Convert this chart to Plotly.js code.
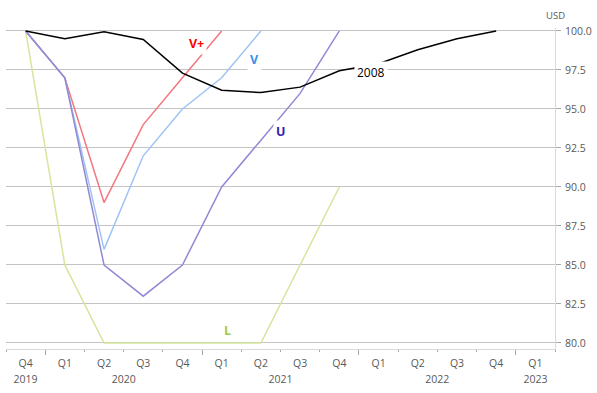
<!DOCTYPE html>
<html>
<head>
<meta charset="utf-8">
<script src="https://cdn.plot.ly/plotly-3.0.1.min.js"></script>
<style>html,body{margin:0;padding:0;background:#fff;}#chart{width:597px;height:393px;}</style>
</head>
<body>
<div id="chart"></div>
<script>
// Categories (quarters) and year groups
const quarters = ["Q4","Q1","Q2","Q3","Q4","Q1","Q2","Q3","Q4","Q1","Q2","Q3","Q4","Q1"];
const years = ["2019","2020","2021","2022","2023"];
const yearCenters = [0, 2.5, 6.5, 10.5, 13];
const yearBounds = [0.5, 4.5, 8.5, 12.5];
const idx = quarters.map((q, i) => i);

// Series values (USD index)
const s2008 = [100, 99.5, 99.95, 99.45, 97.3, 96.2, 96.05, 96.4, 97.45, 97.9, 98.8, 99.5, 100];
const sVplus = [100, 97, 89, 94, 97, 100];
const sV = [100, 97, 86, 92, 95, 97, 100];
const sU = [100, 97, 85, 83, 85, 90, 93, 96, 100];
const sL = [100, 85, 80, 80, 80, 80, 80, 85, 90];

const mk = (vals, color, name) => ({
  x: idx.slice(0, vals.length), y: vals, type: 'scatter', mode: 'lines', name: name,
  line: {color: color, width: 1.5}, hoverinfo: 'skip', showlegend: false
});

const data = [
  mk(sL, '#d4e69c', 'L'),
  mk(sVplus, '#f2777f', 'V+'),
  mk(sV, '#9ec4f4', 'V'),
  mk(sU, '#9388d4', 'U'),
  mk(s2008, '#000000', '2008'),
  {x: [0], y: [null], xaxis: 'x2', type: 'scatter', mode: 'lines', showlegend: false, hoverinfo: 'skip'},
  {x: [0], y: [null], xaxis: 'x3', type: 'scatter', mode: 'lines', showlegend: false, hoverinfo: 'skip'}
];

const xr = [-0.5, 13.5];
const font = {family: 'Open Sans, Noto Sans, sans-serif', size: 10.5, color: '#595959'};

const ann = (x, y, text, color, bold, size) => ({
  x: x, y: y, xref: 'x', yref: 'y', text: bold ? '<b>' + text + '</b>' : text, showarrow: false,
  font: {family: 'Open Sans, Noto Sans, sans-serif', size: size, color: color},
  bgcolor: '#ffffff', borderpad: 2
});

const layout = {
  width: 597, height: 393,
  margin: {l: 6, r: 42, t: 28, b: 44, pad: 0},
  paper_bgcolor: '#ffffff', plot_bgcolor: '#ffffff',
  font: font,
  xaxis: {
    range: xr, tickmode: 'array', tickvals: idx, ticktext: quarters,
    ticks: '', showgrid: false, zeroline: false,
    showline: true, linecolor: '#d9d9d9', linewidth: 1,
    tickfont: font, ticklabelstandoff: 4,
    minor: {tick0: -0.5, dtick: 1, ticks: 'outside', ticklen: 2, tickcolor: '#a6a6a6', tickwidth: 1, showgrid: false}
  },
  xaxis2: {
    range: xr, overlaying: 'x', side: 'bottom', tickmode: 'array', tickvals: yearCenters, ticktext: years,
    ticks: '', showgrid: false, zeroline: false, showline: false, tickfont: font, ticklabelstandoff: 22
  },
  xaxis3: {
    range: xr, overlaying: 'x', side: 'bottom', tickmode: 'array', tickvals: yearBounds,
    ticks: 'outside', ticklen: 5, tickcolor: '#a6a6a6', tickwidth: 1, showticklabels: false,
    showgrid: false, zeroline: false, showline: false
  },
  yaxis: {
    side: 'right', range: [79.615, 100.19], tickmode: 'linear', tick0: 80, dtick: 2.5, tickformat: '.1f',
    showgrid: true, gridcolor: '#c4c4c4', gridwidth: 1, zeroline: false,
    showline: true, linecolor: '#d9d9d9', linewidth: 1,
    ticks: 'outside', ticklen: 5, tickcolor: '#a6a6a6', tickfont: font, ticklabelstandoff: 2
  },
  annotations: [
    ann(4.37, 99.17, 'V+', '#ff0000', true, 12.5),
    ann(5.83, 98.14, 'V', '#3d8fe8', true, 12.5),
    ann(6.51, 93.53, 'U', '#3322aa', true, 12.5),
    ann(5.14, 80.77, 'L', '#9ccc45', true, 12.5),
    ann(8.81, 97.37, '2008', '#000000', false, 12),
    {x: 1, y: 1, xref: 'paper', yref: 'paper', xanchor: 'center', yanchor: 'bottom', yshift: 4,
     text: 'USD', showarrow: false, font: {family: 'Open Sans, Noto Sans, sans-serif', size: 9.5, color: '#595959'}}
  ]
};

Plotly.newPlot('chart', data, layout, {displayModeBar: false, staticPlot: true});
</script>
</body>
</html>
